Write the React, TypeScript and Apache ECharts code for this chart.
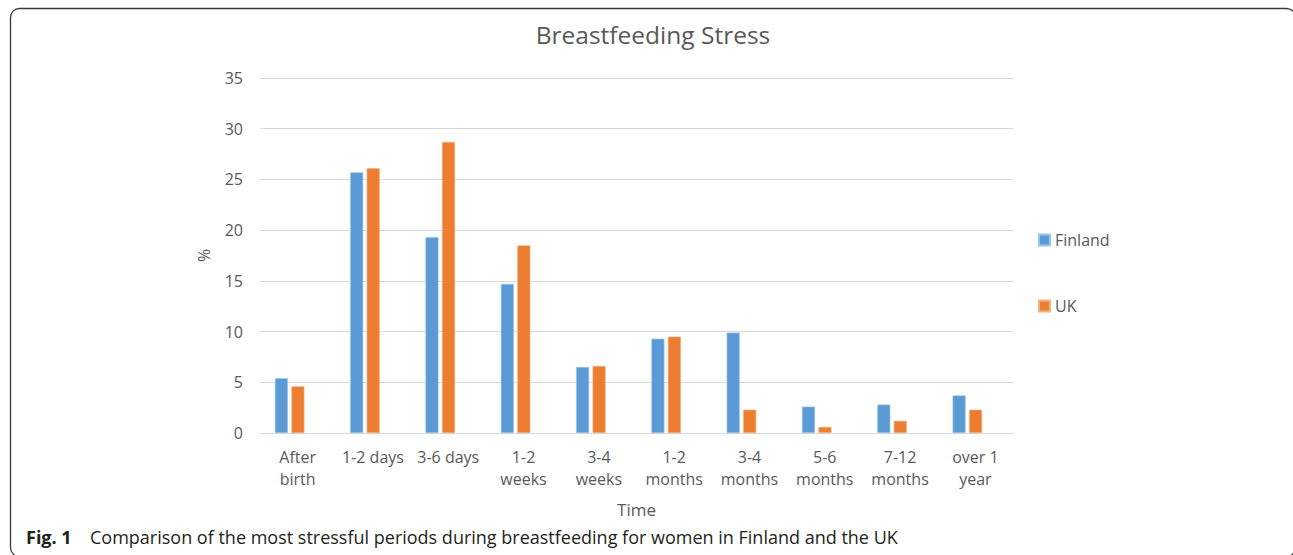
import React, { useEffect, useRef } from "react";
import * as echarts from "echarts";

const categories = [
  "After\nbirth",
  "1-2 days",
  "3-6 days",
  "1-2\nweeks",
  "3-4\nweeks",
  "1-2\nmonths",
  "3-4\nmonths",
  "5-6\nmonths",
  "7-12\nmonths",
  "over 1\nyear",
];
const finland = [5.4, 25.7, 19.3, 14.7, 6.5, 9.3, 9.9, 2.6, 2.8, 3.7];
const uk = [4.6, 26.1, 28.7, 18.5, 6.6, 9.5, 2.3, 0.6, 1.2, 2.3];
const seriesNames = ["Finland", "UK"];
const yTicks = { min: 0, max: 35, interval: 5 };
const chartTitle = "Breastfeeding Stress";
const xName = "Time";
const yName = "%";
const captionBold = "Fig. 1";
const captionText = "Comparison of the most stressful periods during breastfeeding for women in Finland and the UK";

const FONT = "'Open Sans', 'Noto Sans', sans-serif";
const GRAY = "#595959";

export default function App() {
  const ref = useRef<HTMLDivElement>(null);
  useEffect(() => {
    if (!ref.current) return;
    const chart = echarts.init(ref.current, undefined, { renderer: "svg" });
    chart.setOption({
      animation: false,
      backgroundColor: "#ffffff",
      title: {
        text: chartTitle,
        left: 653,
        textAlign: "center",
        top: 22,
        padding: 0,
        textStyle: { fontFamily: FONT, fontSize: 24.5, fontWeight: "normal", color: GRAY },
      },
      legend: {
        orient: "vertical",
        left: 1038,
        top: 232,
        padding: 0,
        itemWidth: 11,
        itemHeight: 11,
        itemGap: 50,
        icon: "rect",
        data: seriesNames,
        textStyle: { fontFamily: FONT, fontSize: 16, color: GRAY, padding: [0, 0, 0, 0], lineHeight: 16 },
      },
      grid: [
        { left: 260, top: 78, width: 753, height: 355, containLabel: false },
        { left: 252, top: 78, width: 753, height: 355, containLabel: false },
      ],
      xAxis: [
        {
          type: "category",
          gridIndex: 0,
          data: categories,
          name: xName,
          nameLocation: "middle",
          nameGap: 68,
          nameTextStyle: { fontFamily: FONT, fontSize: 17, color: GRAY },
          axisLine: { lineStyle: { color: "#d9d9d9", width: 1 } },
          axisTick: { show: false },
          axisLabel: {
            fontFamily: FONT,
            fontSize: 16,
            color: GRAY,
            lineHeight: 22,
            margin: 13,
            interval: 0,
          },
        },
        {
          type: "category",
          gridIndex: 1,
          data: categories,
          show: false,
        },
      ],
      yAxis: [
        {
          type: "value",
          gridIndex: 0,
          min: yTicks.min,
          max: yTicks.max,
          interval: yTicks.interval,
          name: yName,
          nameLocation: "middle",
          nameGap: 48,
          nameRotate: 90,
          nameTextStyle: { fontFamily: FONT, fontSize: 16, color: GRAY },
          axisLine: { show: false },
          axisTick: { show: false },
          splitLine: { lineStyle: { color: "#d9d9d9", width: 1 } },
          axisLabel: { fontFamily: FONT, fontSize: 16, color: GRAY, margin: 17 },
        },
        {
          type: "value",
          gridIndex: 1,
          min: yTicks.min,
          max: yTicks.max,
          interval: yTicks.interval,
          show: false,
          splitLine: { show: false },
        },
      ],
      series: [
        {
          name: seriesNames[0],
          type: "bar",
          xAxisIndex: 1,
          yAxisIndex: 1,
          data: finland,
          barWidth: 13,
          barGap: "27%",
          itemStyle: { color: "#5B9BD5", borderColor: "#9DC3E6", borderWidth: 0.6 },
        },
        {
          name: seriesNames[1],
          type: "bar",
          xAxisIndex: 1,
          yAxisIndex: 1,
          data: uk,
          barWidth: 13,
          barGap: "27%",
          itemStyle: { color: "#ED7D31", borderColor: "#F4B183", borderWidth: 0.6 },
        },
      ],
      graphic: [
        {
          type: "rect",
          shape: { x: 10.5, y: 8.5, width: 1285, height: 548, r: 9 },
          style: { fill: "none", stroke: "#3a3a3a", lineWidth: 1.3 },
          z: 0,
          silent: true,
        },
        {
          type: "text",
          x: 26,
          y: 537,
          style: {
            text: captionBold,
            fontFamily: FONT,
            fontSize: 18,
            fontWeight: "bold",
            fill: "#231f20",
            verticalAlign: "middle",
          },
        },
        {
          type: "text",
          x: 90,
          y: 537,
          style: {
            text: captionText,
            fontFamily: FONT,
            fontSize: 18,
            fill: "#231f20",
            verticalAlign: "middle",
          },
        },
      ],
    });
    return () => chart.dispose();
  }, []);
  return (
    <div
      ref={ref}
      style={{ position: "absolute", left: 0, top: 0, width: 1293, height: 555 }}
    />
  );
}
